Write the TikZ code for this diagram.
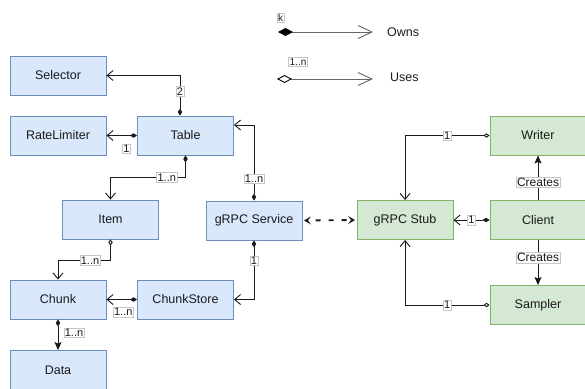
\documentclass[tikz,border=0pt]{standalone}
\usepackage{fontspec}
\setmainfont{Liberation Sans}
\usetikzlibrary{arrows.meta}
\definecolor{bfill}{HTML}{DAE8FC}
\definecolor{bdraw}{HTML}{6C8EBF}
\definecolor{gfill}{HTML}{D5E8D4}
\definecolor{gdraw}{HTML}{82B366}
\definecolor{lnc}{HTML}{1A1A1A}
\tikzset{
  box/.style={rectangle, minimum width=96pt, minimum height=39pt, line width=0.9pt,
    font=\fontsize{12.5}{14}\selectfont, text=lnc, inner sep=0pt},
  bbox/.style={box, fill=bfill, draw=bdraw},
  gbox/.style={box, fill=gfill, draw=gdraw},
  lbl/.style={fill=white, draw=gray!45, line width=0.4pt, inner sep=1pt,
    font=\fontsize{11}{12}\selectfont, text=lnc},
  conn/.style={draw=lnc, line width=0.9pt},
  own/.style={conn, {Diamond[length=7pt,width=4.5pt]}-{Straight Barb[length=6pt,width=10pt]}},
  uses/.style={conn, {Diamond[open,fill=white,length=6pt,width=4.5pt]}-{Straight Barb[length=6pt,width=10pt]}},
  creates/.style={conn, -{Stealth[length=8pt,width=7pt,inset=1.5pt]}},
}
\begin{document}
\begin{tikzpicture}[x=1pt,y=-1pt]
\useasboundingbox (0,0) rectangle (585,388);
% blue nodes
\node[bbox] (sel) at (58,75.5) {Selector};
\node[bbox] (rl) at (58,135.5) {RateLimiter};
\node[bbox] (tab) at (185.5,135.5) {Table};
\node[bbox] (item) at (110.5,219.5) {Item};
\node[bbox] (svc) at (254,220.5) {gRPC Service};
\node[bbox] (chunk) at (58,299.5) {Chunk};
\node[bbox] (cs) at (185.5,299.5) {ChunkStore};
\node[bbox] (data) at (58,370) {Data};
% green nodes
\node[gbox] (stub) at (405,220) {gRPC Stub};
\node[gbox] (writer) at (538,135.5) {Writer};
\node[gbox] (client) at (538,220) {Client};
\node[gbox] (sampler) at (538,305) {Sampler};
% connectors
\draw[own] ([xshift=-5.5pt]tab.north) |- (sel.east) node[lbl, pos=0.3] {2};
\draw[own] (tab.west) -- (rl.east) node[lbl, pos=0.35, yshift=-13pt] {1};
\draw[own] (tab.south) -- ++(0,22) -| (item.north) node[lbl, pos=0.125] {1..n};
\draw[own] (svc.north) |- ([yshift=10.5pt]tab.east) node[lbl, pos=0.145] {1..n};
\draw[own] (svc.south) |- (cs.east) node[lbl, pos=0.17] {1};
\draw[uses] (item.south) -- ++(0,21) -| (chunk.north) node[lbl, pos=0.195] {1..n};
\draw[own] (cs.west) -- (chunk.east) node[lbl, pos=0.45, yshift=-12.5pt] {1..n};
\draw[conn, {Diamond[length=7pt,width=4.5pt]}-{Stealth[length=8pt,width=7pt,inset=1.5pt]}] (chunk.south) -- (data.north) node[lbl, midway, xshift=16pt, yshift=2pt] {1..n};
\draw[conn, line width=1.8pt, dash pattern=on 5pt off 8pt, dash phase=-8pt,
  {Stealth[length=7pt,width=8pt,inset=3pt]}-{Stealth[length=7pt,width=8pt,inset=3pt]}]
  ([xshift=1.5pt]svc.east) -- ([xshift=-1.5pt]stub.west);
\draw[uses] (writer.west) -| (stub.north) node[lbl, pos=0.25] {1};
\draw[own] (client.west) -- (stub.east) node[lbl, midway] {1};
\draw[uses] (sampler.west) -| (stub.south) node[lbl, pos=0.25] {1};
\draw[creates] (client.north) -- (writer.south) node[lbl, pos=0.4, font=\fontsize{12}{13}\selectfont] {Creates};
\draw[creates] (client.south) -- (sampler.north) node[lbl, pos=0.39, font=\fontsize{12}{13}\selectfont] {Creates};
% legend
\coordinate (o1) at (278,32);
\coordinate (o2) at (373,32);
\coordinate (u1) at (277,79);
\coordinate (u2) at (373,79);
\draw[draw=gray!80!black, line width=0.9pt, {Diamond[length=15pt,width=8pt,fill=black,color=black]}-{Straight Barb[length=14pt,width=13pt]}] (o1) -- (o2);
\draw[draw=gray!80!black, line width=0.9pt, {Diamond[open,length=15pt,width=8pt,fill=white,color=black]}-{Straight Barb[length=14pt,width=13pt]}] (u1) -- (u2);
\node[lbl, font=\fontsize{10}{11}\selectfont] (kl) at (280.5,18) {k};
\node[lbl, font=\fontsize{10}{11}\selectfont] (nl) at (298,62) {1..n};
\node[anchor=west, font=\fontsize{12.5}{14}\selectfont, text=lnc, inner sep=0pt] (owns) at (387,32) {Owns};
\node[anchor=west, font=\fontsize{12.5}{14}\selectfont, text=lnc, inner sep=0pt] (usesl) at (390,77) {Uses};
\end{tikzpicture}
\end{document}
